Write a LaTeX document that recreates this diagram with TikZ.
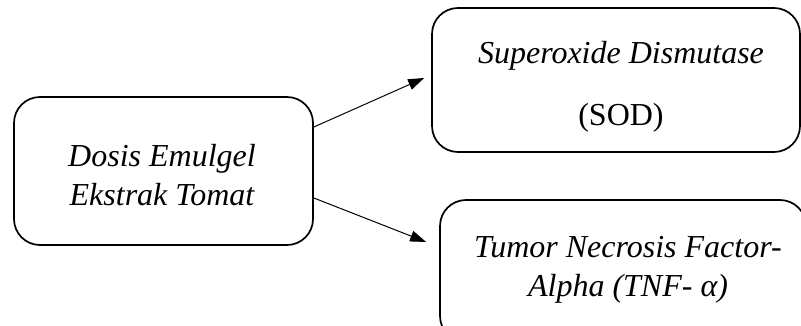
\documentclass[tikz,border=0pt]{standalone}
\usepackage{fontspec}
\setmainfont{Liberation Serif}
\usetikzlibrary{arrows.meta}
\begin{document}
\begin{tikzpicture}[x=1pt,y=-1pt,
  box/.style={draw, line width=1.7pt, rounded corners=26pt, inner sep=0pt},
  txt/.style={align=center, font=\fontsize{32}{39}\selectfont, inner sep=0pt},
  conn/.style={line width=1pt, -{Triangle[length=16pt,width=11pt]}}]
\useasboundingbox (0,0) rectangle (801,326);
\clip (0,0) rectangle (801,326);
\node[box, minimum width=299pt, minimum height=148pt] (L) at (163.5,171) {};
\node[txt] (Lt) at (162,175) {\itshape Dosis Emulgel\\ \itshape Ekstrak Tomat};
\node[box, minimum width=368pt, minimum height=144pt] (S) at (616,80) {};
\node[txt] (St) at (621,87) {\itshape Superoxide Dismutase\\[23pt] (SOD)};
\node[box, minimum width=366pt, minimum height=142pt] (T) at (623,271) {};
\node[txt] (Tt) at (628,270) {\itshape Tumor Necrosis Factor-\\ \itshape Alpha (TNF- α)};
\coordinate (e1) at ([xshift=-7pt,yshift=2pt]S.west);
\coordinate (e2) at ([xshift=-13pt,yshift=29pt]T.west);
\draw[conn] ([yshift=44pt]L.east) -- (e1);
\draw[conn] ([yshift=-27pt]L.east) -- (e2);
\end{tikzpicture}
\end{document}
